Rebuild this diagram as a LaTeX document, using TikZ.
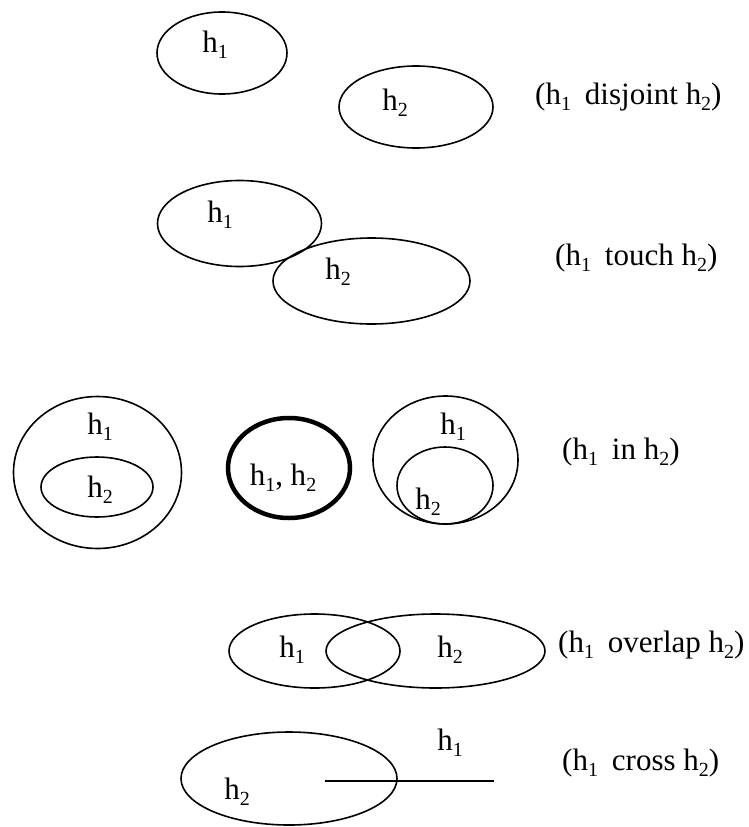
\documentclass[tikz,border=0pt]{standalone}
\usepackage{fontspec}
\setmainfont{Liberation Serif}
\newcommand{\hsub}[1]{h\raisebox{-0.2em}{\fontsize{20}{20}\selectfont #1}}
\newcommand{\rel}[1]{(\hsub{1}\hspace{0.2em} #1 \hsub{2})}
\begin{document}
\begin{tikzpicture}[x=1pt,y=-1pt,
  lbl/.style={font=\fontsize{31}{36}\selectfont, inner sep=0pt},
  reltext/.style={font=\fontsize{31}{36}\selectfont, inner sep=0pt, anchor=west},
  region/.style={draw, line width=1.6pt},
  thickregion/.style={draw, line width=4.5pt}]
\useasboundingbox (0,0) rectangle (749,827);
% disjoint
\draw[region] (222,53) ellipse [x radius=65, y radius=41];
\draw[region] (416,107) ellipse [x radius=77, y radius=41];
\node[lbl] (d1) at (215,45) {\hsub{1}};
\node[lbl] (d2) at (395,103) {\hsub{2}};
\node[reltext] (dt) at (535,97) {\rel{disjoint}};
% touch
\draw[region] (239.5,223.5) ellipse [x radius=82, y radius=43];
\draw[region] (371.5,281) ellipse [x radius=98.5, y radius=43];
\node[lbl] (t1) at (220,215) {\hsub{1}};
\node[lbl] (t2) at (338,272) {\hsub{2}};
\node[reltext] (tt) at (555,258) {\rel{touch}};
% in
\draw[region] (97.5,472.5) ellipse [x radius=84, y radius=76];
\draw[region] (97,487) ellipse [x radius=56, y radius=30];
\node[lbl] (i1) at (100,427) {\hsub{1}};
\node[lbl] (i2) at (100,490) {\hsub{2}};
\draw[thickregion] (289,468) ellipse [x radius=61, y radius=50];
\node[lbl] (e12) at (283,478) {\hsub{1}, \hsub{2}};
\draw[region] (445.5,460) ellipse [x radius=72.5, y radius=64];
\draw[region] (445,485.5) ellipse [x radius=48, y radius=38.5];
\node[lbl] (j1) at (453,427) {\hsub{1}};
\node[lbl] (j2) at (428,502) {\hsub{2}};
\node[reltext] (it) at (562,452) {\rel{in}};
% overlap
\draw[region] (314.5,651) ellipse [x radius=85.5, y radius=37];
\draw[region] (435.5,651) ellipse [x radius=109.5, y radius=37];
\node[lbl] (o1) at (292,650) {\hsub{1}};
\node[lbl] (o2) at (450,650) {\hsub{2}};
\node[reltext] (ot) at (558,645) {\rel{overlap}};
% cross
\draw[region] (289,778.5) ellipse [x radius=108, y radius=46.5];
\coordinate (ls) at (325,781);
\coordinate (le) at (494,781);
\draw[region] (ls) -- (le);
\node[lbl] (c1) at (450,743) {\hsub{1}};
\node[lbl] (c2) at (237,792) {\hsub{2}};
\node[reltext] (ct) at (562,763) {\rel{cross}};
\end{tikzpicture}
\end{document}
